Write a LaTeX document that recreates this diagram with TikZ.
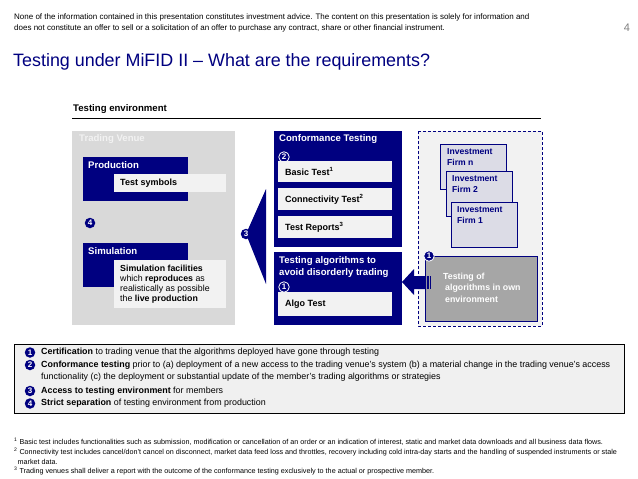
\documentclass[tikz,border=0pt]{standalone}
\usepackage{fontspec}
\setmainfont{Liberation Sans}
\usetikzlibrary{arrows.meta}
\definecolor{navy}{RGB}{0,0,128}
\definecolor{venuegray}{RGB}{217,217,217}
\definecolor{boxwhite}{RGB}{242,242,242}
\definecolor{firmfill}{RGB}{220,220,230}
\definecolor{owngray}{RGB}{166,166,166}
\definecolor{legendfill}{RGB}{240,240,240}
\tikzset{
  navybox/.style={fill=navy, draw=none},
  innerbox/.style={fill=boxwhite, draw=none},
  boxtitle/.style={anchor=west, inner sep=0pt, text=white, font=\fontsize{9.6}{11}\selectfont\bfseries},
  boxtext/.style={anchor=west, inner sep=0pt, font=\fontsize{9}{10}\selectfont\bfseries},
  numcirc/.style={circle, fill=navy, text=white, inner sep=0pt, minimum size=10.5pt, font=\fontsize{8}{8}\selectfont\bfseries},
  numcircw/.style={numcirc, draw=white, line width=0.8pt},
  firmbox/.style={fill=firmfill, draw=navy, line width=0.6pt},
  firmtext/.style={anchor=north west, inner sep=0pt, align=left, text=navy, font=\fontsize{8.6}{10.8}\selectfont\bfseries},
  legtext/.style={anchor=west, inner sep=0pt, font=\fontsize{8.9}{10}\selectfont},
}
\begin{document}
\begin{tikzpicture}[x=1pt,y=-1pt]
\useasboundingbox[fill=white] (0,0) rectangle (638,479);

% header
\node[anchor=north west, inner sep=0pt, align=left, font=\fontsize{8}{11}\selectfont] (disc) at (14,13.5)
 {None of the information contained in this presentation constitutes investment advice. The content on this presentation is solely for information and\\
  does not constitute an offer to sell or a solicitation of an offer to purchase any contract, share or other financial instrument.};
\node[anchor=center, inner sep=0pt, text=gray, font=\fontsize{11}{11}\selectfont] (pg) at (627,28) {4};
\node[anchor=west, inner sep=0pt, text=navy, font=\fontsize{17.9}{20}\selectfont] (title) at (13,62)
 {Testing under MiFID II -- What are the requirements?};

% testing environment
\node[anchor=west, inner sep=0pt, font=\fontsize{9.6}{11}\selectfont\bfseries] (te) at (73,109.5) {Testing environment};
\coordinate (tel) at (72,118);
\coordinate (ter) at (541,118);
\draw[line width=0.8pt] (tel) -- (ter);

% trading venue
\fill[venuegray] (72,131) rectangle (235,325);
\node[boxtitle, text=boxwhite] (tv) at (79,139) {Trading Venue};
\fill[navybox] (83,157) rectangle (188,201);
\node[boxtitle] (prod) at (88,165) {Production};
\fill[innerbox] (114,174) rectangle (226,192);
\node[boxtext] (ts) at (120,183) {Test symbols};
\node[numcirc] (c4) at (90,223) {4};
\fill[navybox] (83,243) rectangle (188,287);
\node[boxtitle] (sim) at (88,251) {Simulation};
\fill[innerbox] (114,260) rectangle (226,308);
\node[anchor=north west, inner sep=0pt, align=left, font=\fontsize{8.8}{10}\selectfont] (simtxt) at (120,264.5)
 {\textbf{Simulation facilities}\\ which \textbf{reproduces} as\\ realistically as possible\\ the \textbf{live production}};

% arrow 3
\fill[navy] (266,189) -- (246,234) -- (266,284) -- cycle;
\node[numcirc] (c3) at (246,234) {3};

% conformance testing
\fill[navybox] (274,131) rectangle (402,247);
\node[boxtitle] (ct) at (279,139) {Conformance Testing};
\node[numcircw] (c2) at (284,157) {2};
\fill[innerbox] (278,161) rectangle (392,182);
\node[boxtext] (bt) at (285,171.5) {Basic Test\textsuperscript{\fontsize{6}{6}\selectfont 1}};
\fill[innerbox] (278,188) rectangle (392,210);
\node[boxtext] (cnt) at (285,199) {Connectivity Test\textsuperscript{\fontsize{6}{6}\selectfont 2}};
\fill[innerbox] (278,216) rectangle (392,238);
\node[boxtext] (tr) at (285,227) {Test Reports\textsuperscript{\fontsize{6}{6}\selectfont 3}};

% algo box
\fill[navybox] (274,252) rectangle (402,325);
\node[anchor=north west, inner sep=0pt, align=left, text=white, font=\fontsize{9.6}{12}\selectfont\bfseries] (at) at (279,256.5)
 {Testing algorithms to\\avoid disorderly trading};
\node[numcircw] (c1a) at (284,287) {1};
\fill[innerbox] (278,292) rectangle (392,316);
\node[boxtext] (algo) at (285,304) {Algo Test};

% investment firms
\filldraw[fill=boxwhite, draw=navy, densely dashed, line width=0.6pt] (418,131) rectangle (542,326);
\filldraw[firmbox] (440,144) rectangle (506,189);
\node[firmtext] (fn) at (447,148.5) {Investment\\Firm n};
\filldraw[firmbox] (446,171) rectangle (512,216);
\node[firmtext] (f2) at (452,175.5) {Investment\\Firm 2};
\filldraw[firmbox] (451,202) rectangle (517,247);
\node[firmtext] (f1) at (457,206.5) {Investment\\Firm 1};

\filldraw[fill=owngray, draw=navy, line width=0.6pt] (425,256) rectangle (537,321);
\node[anchor=north west, inner sep=0pt, align=left, text=white, font=\fontsize{8.8}{11.5}\selectfont\bfseries] (own) at (443,272.5)
 {Testing of\\ \hspace*{2pt}algorithms in own\\ \hspace*{2pt}environment};
\node[numcircw] (c1b) at (429,256) {1};

% arrow 1 (striped)
\fill[navy] (402,282) -- (414,269) -- (414,276) -- (426,276) -- (426,289) -- (414,289) -- (414,295) -- cycle;
\fill[navy] (427.3,276) rectangle (428.8,289);
\fill[navy] (430,276) rectangle (431.3,289);

% legend
\filldraw[fill=legendfill, draw=black, line width=0.7pt] (14,344) rectangle (624,413);
\node[numcirc] (l1) at (30,352.5) {1};
\node[legtext] (lt1) at (41,352.5) {\textbf{Certification} to trading venue that the algorithms deployed have gone through testing};
\node[numcirc] (l2) at (30,365) {2};
\node[anchor=north west, inner sep=0pt, align=left, font=\fontsize{8.9}{12}\selectfont] (lt2) at (41,360.5)
 {\textbf{Conformance testing} prior to (a) deployment of a new access to the trading venue's system (b) a material change in the trading venue's access\\
  functionality (c) the deployment or substantial update of the member's trading algorithms or strategies};
\node[numcirc] (l3) at (30,391) {3};
\node[legtext] (lt3) at (41,391) {\textbf{Access to testing environment} for members};
\node[numcirc] (l4) at (30,403.5) {4};
\node[legtext] (lt4) at (41,403.5) {\textbf{Strict separation} of testing environment from production};

% footnotes
\node[anchor=north west, inner sep=0pt, align=left, font=\fontsize{7.2}{9.7}\selectfont] (fn) at (14,438)
 {\textsuperscript{1} Basic test includes functionalities such as submission, modification or cancellation of an order or an indication of interest, static and market data downloads and all business data flows.\\
  \textsuperscript{2} Connectivity test includes cancel/don't cancel on disconnect, market data feed loss and throttles, recovery including cold intra-day starts and the handling of suspended instruments or stale\\
  \hspace*{3.5pt}market data.\\
  \textsuperscript{3} Trading venues shall deliver a report with the outcome of the conformance testing exclusively to the actual or prospective member.};
\end{tikzpicture}
\end{document}
